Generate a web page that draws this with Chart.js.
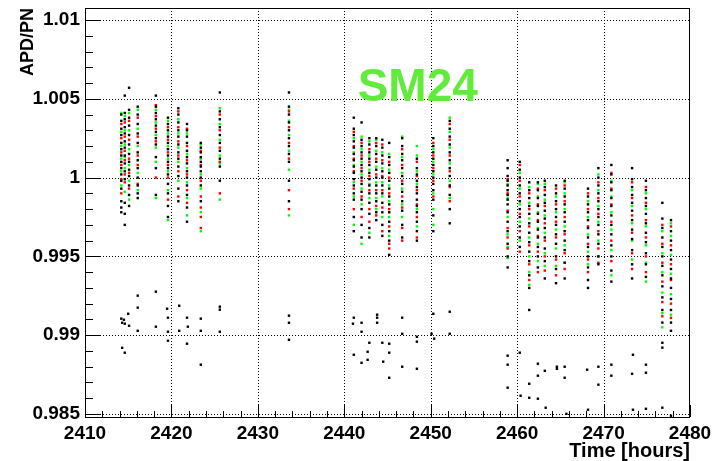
<!DOCTYPE html>
<html>
<head>
<meta charset="utf-8">
<script src="https://cdn.jsdelivr.net/npm/chart.js@4/dist/chart.umd.min.js"></script>
<style>
  html, body { margin: 0; padding: 0; background: #ffffff; }
  canvas { display: block; }
</style>
</head>
<body>
<canvas id="c" width="720" height="461"></canvas>
<script>
// ---- data ----
const xTickVals = [2410, 2420, 2430, 2440, 2450, 2460, 2470, 2480];
const yTickVals = [0.985, 0.99, 0.995, 1.0, 1.005, 1.01];
const yTickLabels = ['0.985', '0.99', '0.995', '1', '1.005', '1.01'];
const chartTitle = 'SM24';
const xTitle = 'Time [hours]';
const yTitle = 'APD/PN';

const colTimes = [
  2414.2, 2414.6, 2415.1, 2416.1, 2418.2, 2419.6, 2420.8, 2421.8, 2423.4, 2425.6, 2433.6,
  2441.1, 2442.0, 2442.9, 2443.7, 2444.4, 2445.2, 2446.7, 2448.4, 2450.3, 2452.2,
  2458.9, 2460.3, 2461.4, 2462.4, 2463.2, 2464.5, 2465.5, 2468.2, 2469.4, 2470.9, 2473.3, 2474.9, 2476.8, 2477.8
];

const blackCols = [
  [1.0040,1.0036,1.0031,1.0027,1.0022,1.0018,1.0014,1.0010,1.0006,1.0002,0.9998,0.9993,0.9985,0.9981,0.9978],
  [1.0052,1.0041,1.0037,1.0032,1.0028,1.0023,1.0019,1.0014,1.0009,1.0004,0.9999,0.9984,0.9977,0.9970],
  [1.0057,1.0043,1.0038,1.0033,1.0027,1.0021,1.0015,1.0010,1.0005,1.0001,0.9995,0.9989,0.9982],
  [1.0045,1.0040,1.0034,1.0028,1.0022,1.0016,1.0011,1.0006,1.0000,0.9995,0.9990,0.9987],
  [1.0052,1.0045,1.0041,1.0037,1.0033,1.0029,1.0025,1.0021,1.0013,1.0006,0.9989],
  [1.0038,1.0034,1.0030,1.0026,1.0022,1.0018,1.0014,1.0010,1.0006,1.0002,0.9996,0.9990,0.9982,0.9975],
  [1.0044,1.0040,1.0035,1.0030,1.0026,1.0021,1.0016,1.0012,1.0007,1.0001,0.9993,0.9985],
  [1.0034,1.0030,1.0026,1.0022,1.0017,1.0013,1.0009,1.0004,1.0000,0.9995,0.9989,0.9981,0.9972],
  [1.0022,1.0019,1.0016,1.0013,1.0010,1.0007,1.0004,1.0000,0.9995,0.9985],
  [1.0054,1.0042,1.0037,1.0032,1.0027,1.0022,1.0017,1.0012,1.0007,0.9998],
  [1.0054,1.0045,1.0040,1.0035,1.0030,1.0025,1.0020,1.0015,1.0010,0.9998,0.9985],
  [1.0038,1.0031,1.0027,1.0023,1.0019,1.0015,1.0011,1.0007,1.0003,0.9999,0.9995,0.9990,0.9986,0.9975,0.9966],
  [1.0035,1.0024,1.0020,1.0016,1.0012,1.0008,1.0004,1.0000,0.9996,0.9991,0.9986,0.9980,0.9970,0.9962],
  [1.0025,1.0021,1.0016,1.0012,1.0008,1.0003,0.9999,0.9995,0.9990,0.9984,0.9977,0.9968,0.9962],
  [1.0025,1.0020,1.0015,1.0010,1.0005,1.0000,0.9995,0.9990,0.9985,0.9978,0.9973],
  [1.0024,1.0019,1.0014,1.0009,1.0004,1.0000,0.9995,0.9990,0.9984,0.9978,0.9970,0.9963],
  [1.0022,1.0013,1.0008,1.0003,0.9998,0.9993,0.9988,0.9983,0.9978,0.9972,0.9966,0.9960,0.9951],
  [1.0025,1.0020,1.0015,1.0011,1.0006,1.0001,0.9996,0.9991,0.9985,0.9979,0.9970,0.9962],
  [1.0012,1.0006,1.0002,0.9998,0.9994,0.9990,0.9986,0.9982,0.9978,0.9972,0.9966,0.9960],
  [1.0025,1.0020,1.0016,1.0012,1.0008,1.0004,1.0000,0.9996,0.9992,0.9986,0.9976,0.9966],
  [1.0036,1.0031,1.0026,1.0021,1.0016,1.0011,1.0006,1.0001,0.9995,0.9989,0.9980,0.9971],
  [1.0011,1.0006,1.0001,0.9998,0.9995,0.9992,0.9989,0.9986,0.9983,0.9978,0.9972,0.9966,0.9958,0.9950,0.9943],
  [1.0010,1.0005,1.0000,0.9995,0.9990,0.9985,0.9980,0.9975,0.9969,0.9962,0.9956],
  [0.9997,0.9992,0.9987,0.9982,0.9977,0.9971,0.9965,0.9959,0.9953,0.9947,0.9938,0.9930,0.9916],
  [0.9997,0.9992,0.9987,0.9982,0.9977,0.9972,0.9967,0.9962,0.9956,0.9950,0.9943],
  [0.9998,0.9994,0.9989,0.9984,0.9979,0.9974,0.9968,0.9962,0.9955,0.9947,0.9936],
  [0.9995,0.9990,0.9985,0.9980,0.9975,0.9970,0.9964,0.9958,0.9950,0.9942,0.9933],
  [0.9998,0.9993,0.9988,0.9983,0.9978,0.9972,0.9966,0.9960,0.9954,0.9946,0.9936],
  [0.9993,0.9988,0.9983,0.9978,0.9973,0.9968,0.9962,0.9956,0.9950,0.9943,0.9935,0.9930],
  [1.0006,1.0000,0.9995,0.9990,0.9985,0.9980,0.9975,0.9970,0.9964,0.9958,0.9950,0.9945],
  [1.0008,1.0002,0.9997,0.9992,0.9987,0.9982,0.9976,0.9970,0.9964,0.9957,0.9950,0.9941,0.9934],
  [1.0006,0.9999,0.9994,0.9989,0.9984,0.9979,0.9973,0.9967,0.9961,0.9954,0.9945,0.9936],
  [0.9998,0.9992,0.9987,0.9982,0.9977,0.9971,0.9965,0.9959,0.9952,0.9945,0.9937],
  [0.9984,0.9974,0.9968,0.9962,0.9956,0.9950,0.9944,0.9938,0.9931,0.9924,0.9916,0.9908],
  [0.9973,0.9966,0.9960,0.9954,0.9948,0.9942,0.9936,0.9930,0.9923,0.9916,0.9908]
];

const redCols = [
  [1.0034,1.0025,1.0016,1.0008,0.9999,0.9990],
  [1.0035,1.0026,1.0017,1.0011,1.0002,0.9997],
  [1.0036,1.0024,1.0012,1.0003,0.9993],
  [1.0038,1.0026,1.0014,1.0008,0.9996],
  [1.0046,1.0039,1.0031,1.0023,1.0000],
  [1.0032,1.0024,1.0016,1.0008,1.0000,0.9986],
  [1.0042,1.0032,1.0023,1.0014,1.0004,0.9988],
  [1.0031,1.0020,1.0011,1.0002,0.9992,0.9984],
  [1.0017,1.0008,0.9998,0.9988,0.9981,0.9975,0.9968],
  [1.0040,1.0030,1.0019,1.0010,0.9990],
  [1.0042,1.0032,1.0022,1.0012,0.9992,0.9980],
  [1.0029,1.0020,1.0012,1.0004,0.9993,0.9980],
  [1.0022,1.0014,1.0006,0.9998,0.9988,0.9975],
  [1.0018,1.0010,1.0001,0.9992,0.9980,0.9972],
  [1.0022,1.0012,1.0002,0.9992,0.9982,0.9976],
  [1.0021,1.0011,1.0001,0.9992,0.9981,0.9966],
  [1.0010,1.0000,0.9990,0.9980,0.9969,0.9958,0.9955],
  [1.0018,1.0008,0.9998,0.9988,0.9981,0.9968,0.9960],
  [1.0010,1.0001,0.9992,0.9983,0.9975,0.9962],
  [1.0022,1.0014,1.0006,0.9998,0.9988],
  [1.0034,1.0024,1.0014,1.0004,0.9994,0.9985],
  [0.9999,0.9990,0.9979,0.9968,0.9962,0.9955],
  [1.0008,0.9998,0.9988,0.9977,0.9966,0.9953],
  [0.9990,0.9980,0.9969,0.9957,0.9945,0.9935],
  [0.9993,0.9983,0.9973,0.9963,0.9953,0.9940],
  [0.9992,0.9982,0.9971,0.9960,0.9950,0.9941],
  [0.9993,0.9983,0.9972,0.9962,0.9948,0.9938],
  [0.9995,0.9985,0.9975,0.9964,0.9952,0.9942],
  [0.9990,0.9980,0.9969,0.9958,0.9948,0.9940],
  [0.9997,0.9987,0.9977,0.9966,0.9955,0.9946],
  [1.0003,0.9993,0.9983,0.9972,0.9960,0.9947],
  [0.9997,0.9987,0.9976,0.9965,0.9952,0.9942],
  [0.9994,0.9984,0.9973,0.9962,0.9950,0.9940],
  [0.9970,0.9958,0.9946,0.9934,0.9921,0.9912],
  [0.9969,0.9957,0.9945,0.9935,0.9920,0.9911]
];

const greenCols = [
  [1.0041,1.0029,1.0020,1.0012,1.0004,0.9995],
  [1.0039,1.0030,1.0021,1.0013,1.0006,0.9991],
  [1.0041,1.0030,1.0018,1.0008,0.9998,0.9986],
  [1.0043,1.0031,1.0020,1.0003,0.9992],
  [1.0043,1.0035,1.0027,1.0019,1.0010,0.9987],
  [1.0036,1.0028,1.0020,1.0012,1.0004,0.9992,0.9973],
  [1.0037,1.0028,1.0019,1.0010,0.9998],
  [1.0028,1.0015,1.0006,0.9997,0.9987,0.9976],
  [1.0021,1.0012,1.0002,0.9993,0.9978,0.9966],
  [1.0044,1.0034,1.0024,1.0014,1.0009,0.9986],
  [1.0043,1.0036,1.0027,1.0017,1.0005,0.9976],
  [1.0025,1.0016,1.0008,0.9997,0.9988,0.9970],
  [1.0026,1.0018,1.0010,1.0002,0.9993,0.9983,0.9958],
  [1.0023,1.0014,1.0005,0.9996,0.9987,0.9965],
  [1.0024,1.0017,1.0007,0.9997,0.9987,0.9980],
  [1.0016,1.0006,0.9997,0.9988,0.9975],
  [1.0015,1.0005,0.9995,0.9985,0.9975,0.9963],
  [1.0026,1.0013,1.0003,0.9993,0.9983,0.9975],
  [1.0020,1.0014,1.0004,0.9996,0.9980,0.9969],
  [1.0018,1.0010,1.0002,0.9990,0.9980,0.9970],
  [1.0038,1.0029,1.0019,1.0009,0.9998,0.9987],
  [0.9996,0.9987,0.9975,0.9964,0.9956,0.9949],
  [1.0003,0.9993,0.9983,0.9972,0.9960],
  [0.9994,0.9984,0.9974,0.9962,0.9950,0.9940,0.9932],
  [0.9996,0.9988,0.9978,0.9968,0.9958,0.9947],
  [0.9996,0.9986,0.9976,0.9965,0.9952,0.9944],
  [0.9988,0.9978,0.9967,0.9955,0.9944],
  [0.9997,0.9990,0.9980,0.9969,0.9957,0.9946],
  [0.9985,0.9975,0.9964,0.9953,0.9945],
  [1.0002,0.9992,0.9982,0.9972,0.9960,0.9950],
  [0.9998,0.9988,0.9978,0.9967,0.9954,0.9938],
  [0.9992,0.9982,0.9971,0.9960,0.9948],
  [0.9990,0.9980,0.9969,0.9957,0.9946,0.9934],
  [0.9966,0.9952,0.9940,0.9927,0.9914,0.9905],
  [0.9971,0.9963,0.9951,0.9939,0.9926,0.9913]
];

// scattered low (black) points
const strayTimes = [
  2414.2,2414.3,2414.5,2414.6,2415.0,2415.1,2416.1,2416.1,2416.1,2414.3,2414.6,2418.2,2418.2,
  2419.5,2419.6,2419.6,2419.6,2420.9,2420.9,2421.8,2421.9,2421.8,2423.4,2423.4,2423.4,
  2425.6,2425.6,2425.6,2433.6,2433.6,2433.6,
  2441.1,2441.0,2442.0,2442.0,2441.1,2442.0,2442.9,2442.7,2442.7,2443.8,2443.8,2443.8,
  2444.4,2444.5,2445.2,2445.2,2445.2,2446.7,2446.7,2446.7,2448.4,2448.4,2448.4,
  2450.3,2450.1,2450.4,2452.2,2452.2,
  2458.9,2458.9,2458.9,2460.3,2460.4,2461.4,2461.4,2462.4,2462.4,2462.4,2463.2,2463.3,
  2464.6,2464.6,2465.5,2465.5,2465.7,2468.1,2468.2,2469.4,2469.4,2470.9,2470.9,
  2473.3,2473.4,2473.4,2474.9,2474.9,2474.9,2476.8,2476.8,2476.8,2477.8,2477.8
];
const strayVals = [
  0.99105,0.99079,0.99098,0.99073,0.99136,0.99060,0.99251,0.99175,0.99028,0.98920,0.98889,0.99276,0.99054,
  0.99168,0.99111,0.99022,0.98965,0.99187,0.99028,0.99111,0.99054,0.98946,0.99105,0.99028,0.98813,
  0.99181,0.99162,0.99022,0.99124,0.99079,0.98971,
  0.99111,0.99073,0.99079,0.99022,0.98876,0.98825,0.98952,0.98895,0.98844,0.99130,0.99111,0.99079,
  0.98952,0.98832,0.98946,0.98889,0.98730,0.99111,0.99009,0.98800,0.98990,0.98959,0.98787,
  0.99136,0.99009,0.98978,0.99149,0.99009,
  0.98870,0.98813,0.98667,0.98889,0.98616,0.98692,0.98603,0.98819,0.98743,0.98597,0.98774,0.98540,
  0.98800,0.98787,0.98800,0.98730,0.98501,0.98781,0.98527,0.98800,0.98686,0.98813,0.98743,
  0.98755,0.98876,0.98527,0.98813,0.98762,0.98533,0.98952,0.98921,0.98540,0.99028,0.98489
];

// ---- build datasets from the arrays ----
function flatten(cols) {
  const out = [];
  cols.forEach((vals, i) => vals.forEach(v => out.push({ x: colTimes[i], y: v })));
  return out;
}
const blackPts = flatten(blackCols).concat(strayTimes.map((t, i) => ({ x: t, y: strayVals[i] })));
const redPts = flatten(redCols);
const greenPts = flatten(greenCols);

const FONT = "'Liberation Sans', Arial, Helvetica, sans-serif";

function pointSet(data, color) {
  return {
    data: data,
    pointStyle: 'rect',
    pointRadius: 1.7,
    pointBorderWidth: 0,
    pointBackgroundColor: color,
    backgroundColor: color,
    borderColor: color,
    showLine: false
  };
}

// dotted grid at the library's major ticks
const dottedGrid = {
  id: 'dottedGrid',
  beforeDatasetsDraw(chart) {
    const ctx = chart.ctx;
    const a = chart.chartArea;
    const xs = chart.scales.x, ys = chart.scales.y;
    const L = Math.round(a.left), R = Math.round(a.right), T = Math.round(a.top), B = Math.round(a.bottom);
    ctx.save();
    ctx.fillStyle = '#000';
    ys.ticks.forEach(t => {
      const py = Math.round(ys.getPixelForValue(t.value));
      if (py <= T || py >= B) return;
      for (let px = L; px < R; px += 3) ctx.fillRect(px, py, 1, 1);
    });
    xs.ticks.forEach(t => {
      const px = Math.round(xs.getPixelForValue(t.value));
      if (px <= L || px >= R - 1) return;
      for (let py = T; py < B; py += 3) ctx.fillRect(px, py, 1, 1);
    });
    ctx.restore();
  }
};

const frameAndTicks = {
  id: 'frameAndTicks',
  afterDraw(chart) {
    const ctx = chart.ctx;
    const a = chart.chartArea;
    const xs = chart.scales.x, ys = chart.scales.y;
    ctx.save();
    ctx.strokeStyle = '#000';
    ctx.lineWidth = 1;
    ctx.setLineDash([]);
    ctx.beginPath();
    for (let k = 0; k <= 25; k++) {
      const v = 0.985 + k * 0.001;
      const py = Math.round(ys.getPixelForValue(v)) + 0.5;
      if (py < a.top || py > a.bottom) continue;
      const len = (k % 5 === 0) ? 15 : 8;
      ctx.moveTo(a.left, py);
      ctx.lineTo(a.left + len, py);
    }
    for (let k = 0; k <= 35; k++) {
      const v = 2410 + k * 2;
      const px = Math.round(xs.getPixelForValue(v)) + 0.5;
      const len = (k % 5 === 0) ? 12 : 6;
      ctx.moveTo(px, a.bottom);
      ctx.lineTo(px, a.bottom - len);
    }
    ctx.stroke();
    ctx.strokeRect(Math.round(a.left) + 0.5, Math.round(a.top) + 0.5,
                   Math.round(a.right - a.left) - 1, Math.round(a.bottom - a.top));
    ctx.fillStyle = '#62ea3c';
    ctx.font = 'bold 46px ' + FONT;
    ctx.textAlign = 'center';
    ctx.textBaseline = 'middle';
    ctx.fillText(chartTitle, xs.getPixelForValue(2448.5), 88);
    ctx.restore();
  }
};

new Chart(document.getElementById('c'), {
  type: 'scatter',
  data: {
    datasets: [
      pointSet(blackPts, '#000000'),
      pointSet(redPts, '#ff0000'),
      pointSet(greenPts, '#00ff00')
    ]
  },
  options: {
    responsive: false,
    animation: false,
    events: [],
    layout: { padding: { left: 0, right: 30, top: 8, bottom: 0 } },
    plugins: { legend: { display: false }, tooltip: { enabled: false }, title: { display: false } },
    scales: {
      x: {
        type: 'linear',
        min: 2410, max: 2480,
        afterBuildTicks: s => { s.ticks = xTickVals.map(v => ({ value: v })); },
        afterFit: s => { s.height = 44; s.paddingLeft = 0; s.paddingRight = 0; },
        grid: { display: false, drawTicks: false },
        border: { display: false },
        ticks: {
          color: '#000', padding: 5, maxRotation: 0, autoSkip: false,
          font: { family: FONT, size: 19, weight: 'bold' },
          callback: v => String(v)
        },
        title: {
          display: true, text: xTitle, align: 'end', color: '#000',
          font: { family: FONT, size: 20, weight: 'bold', lineHeight: 1.0 },
          padding: { top: 0, bottom: 0 }
        }
      },
      y: {
        type: 'linear',
        min: 0.98481, max: 1.01076,
        afterBuildTicks: s => { s.ticks = yTickVals.map(v => ({ value: v })); },
        afterFit: s => { s.width = 85; s.paddingTop = 0; s.paddingBottom = 0; },
        grid: { display: false, drawTicks: false },
        border: { display: false },
        ticks: {
          color: '#000', padding: 5, autoSkip: false,
          font: { family: FONT, size: 19, weight: 'bold' },
          callback: (v) => {
            const i = yTickVals.findIndex(t => Math.abs(t - v) < 1e-9);
            return i >= 0 ? yTickLabels[i] : '';
          }
        },
        title: {
          display: true, text: yTitle, align: 'end', color: '#000',
          font: { family: FONT, size: 18, weight: 'bold', lineHeight: 1.2 },
          padding: { top: 17, bottom: 0 }
        }
      }
    }
  },
  plugins: [dottedGrid, frameAndTicks]
});
</script>
</body>
</html>
